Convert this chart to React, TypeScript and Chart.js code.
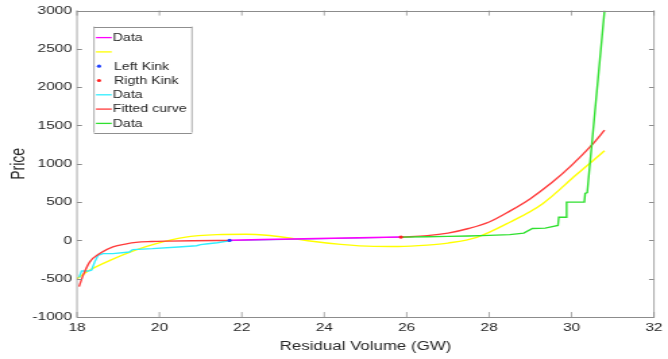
import React, { useEffect, useRef } from 'react';
import { Chart, registerables } from 'chart.js';

Chart.register(...registerables);

// ---- data ----
const xTicks = [18, 20, 22, 24, 26, 28, 30, 32];
const yTicks = [-1000, -500, 0, 500, 1000, 1500, 2000, 2500, 3000];

const magentaX = [21.7, 22.5, 23.5, 24.5, 25.86];
const magentaY = [2, 12, 22, 32, 45];

const kinkLineX = [21.7, 25.86];
const kinkLineY = [-3, 42];

const yellowX = [18, 18.3, 18.8, 19.4, 19.9, 20.6, 21.4, 22.1, 22.6, 23.1, 23.6, 24.4, 25.2, 25.8, 26.5, 27, 27.7, 28.5, 29.3, 30.1, 30.8];
const yellowY = [-500, -390, -260, -130, -45, 40, 75, 80, 68, 35, -5, -52, -78, -80, -62, -35, 40, 237, 480, 850, 1170];

const leftKinkX = [21.7];
const leftKinkY = [0];
const rightKinkX = [25.86];
const rightKinkY = [43];

const cyanX = [18.04, 18.06, 18.11, 18.27, 18.35, 18.43, 18.51, 18.63, 18.87, 19.27, 19.35, 19.83, 20.46, 20.9, 21.0, 21.18, 21.4, 21.7];
const cyanY = [-475, -470, -400, -400, -388, -280, -194, -172, -172, -151, -120, -108, -86, -70, -55, -43, -30, -5];

const fitX = [18.05, 18.15, 18.31, 18.55, 18.87, 19.2, 19.43, 19.8, 20.22, 20.8, 21.7, 23.8, 25.86, 26.5, 27, 27.5, 28, 28.5, 29, 29.5, 30, 30.5, 30.8];
const fitY = [-604, -453, -280, -172, -86, -45, -26, -15, -9, -4, 0, null, 43, 62, 95, 155, 240, 382, 545, 745, 980, 1250, 1440];

const greenX = [25.86, 26.5, 27, 27.5, 28, 28.5, 28.84, 29.05, 29.36, 29.67, 29.69, 29.87, 29.88, 30.31, 30.33, 30.38, 30.8];
const greenY = [43, 48, 52, 58, 66, 76, 95, 155, 160, 194, 302, 302, 500, 500, 612, 625, 3000];

const legendLabels = ['Data', '', 'Left Kink', 'Rigth Kink', 'Data', 'Fitted curve', 'Data'];

// ---- styling ----
const CANVAS_W = 495;
const CANVAS_H = 359;
const SCREEN_W = 668;
const S = SCREEN_W / CANVAS_W; // horizontal stretch of the picture
const FONT = "'Liberation Sans', Arial, Helvetica, sans-serif";
const TEXT = '#262626';
const AXIS = '#8c8c8c';

const pts = (xs: number[], ys: (number | null)[]) => xs.map((x, i) => ({ x, y: ys[i] }));

const boxTicksPlugin = {
  id: 'boxTicks',
  afterDatasetsDraw(chart: any) {
    const { ctx, chartArea: ca, scales } = chart;
    ctx.save();
    ctx.strokeStyle = AXIS;
    ctx.lineWidth = 1;
    ctx.beginPath();
    ctx.moveTo(ca.left, Math.round(ca.top) + 0.5);
    ctx.lineTo(ca.right, Math.round(ca.top) + 0.5);
    ctx.moveTo(ca.left, Math.round(ca.bottom) + 0.5);
    ctx.lineTo(ca.right, Math.round(ca.bottom) + 0.5);
    ctx.stroke();
    ctx.lineWidth = 1 / S;
    ctx.beginPath();
    ctx.moveTo(ca.left, ca.top);
    ctx.lineTo(ca.left, ca.bottom + 1);
    ctx.moveTo(ca.right, ca.top);
    ctx.lineTo(ca.right, ca.bottom + 1);
    xTicks.forEach((v) => {
      const px = scales.x.getPixelForValue(v);
      ctx.moveTo(px, ca.bottom);
      ctx.lineTo(px, ca.bottom - 5);
      ctx.moveTo(px, ca.top);
      ctx.lineTo(px, ca.top + 5);
    });
    ctx.stroke();
    ctx.lineWidth = 1;
    ctx.beginPath();
    yTicks.forEach((v) => {
      const py = Math.round(scales.y.getPixelForValue(v)) + 0.5;
      ctx.moveTo(ca.left, py);
      ctx.lineTo(ca.left + 5 / S, py);
      ctx.moveTo(ca.right, py);
      ctx.lineTo(ca.right - 5 / S, py);
    });
    ctx.stroke();
    ctx.restore();
  },
};

const legendPlugin = {
  id: 'boxLegend',
  afterDraw(chart: any) {
    const { ctx, chartArea: ca } = chart;
    const ds = chart.data.datasets;
    const x0 = ca.left + 17 / S;
    const y0 = ca.top + 16;
    const w = 98 / S;
    const h = 106;
    ctx.save();
    ctx.fillStyle = '#ffffff';
    ctx.fillRect(x0, y0, w, h);
    ctx.strokeStyle = '#8f8f8f';
    ctx.lineWidth = 1;
    ctx.beginPath();
    ctx.moveTo(x0, Math.round(y0) + 0.5);
    ctx.lineTo(x0 + w, Math.round(y0) + 0.5);
    ctx.moveTo(x0, Math.round(y0 + h) + 0.5);
    ctx.lineTo(x0 + w, Math.round(y0 + h) + 0.5);
    ctx.stroke();
    ctx.lineWidth = 1 / S;
    ctx.beginPath();
    ctx.moveTo(x0, y0);
    ctx.lineTo(x0, y0 + h);
    ctx.moveTo(x0 + w, y0);
    ctx.lineTo(x0 + w, y0 + h);
    ctx.stroke();

    ctx.font = `10.5px ${FONT}`;
    ctx.textBaseline = 'middle';
    ctx.textAlign = 'left';
    legendLabels.forEach((label, i) => {
      const d = ds[i];
      const yy = y0 + 11 + i * 14.3;
      if (d.showLine === false) {
        ctx.fillStyle = d.backgroundColor;
        ctx.beginPath();
        ctx.ellipse(x0 + 5 / S, yy, 1.6, 1.6, 0, 0, Math.PI * 2);
        ctx.fill();
      } else {
        ctx.strokeStyle = d.borderColor;
        ctx.lineWidth = 1.3;
        ctx.beginPath();
        ctx.moveTo(x0 + 2 / S, yy);
        ctx.lineTo(x0 + 17.7 / S, yy);
        ctx.stroke();
      }
      ctx.fillStyle = TEXT;
      ctx.fillText(label, x0 + (d.showLine === false ? 20 : 18.7) / S, yy + 0.5);
    });
    ctx.restore();
  },
};

export default function App() {
  const ref = useRef<HTMLCanvasElement | null>(null);

  useEffect(() => {
    document.body.style.margin = '0';
    const canvas = ref.current!;
    const lineBase = { showLine: true, pointRadius: 0, borderWidth: 1.4, fill: false };
    const chart = new Chart(canvas, {
      type: 'scatter',
      data: {
        datasets: [
          { ...lineBase, label: legendLabels[0], data: pts(magentaX, magentaY), borderColor: '#ff00ff', order: 4 },
          { ...lineBase, label: legendLabels[1], data: pts(yellowX, yellowY), borderColor: '#ffff00', cubicInterpolationMode: 'monotone', order: 6 },
          { label: legendLabels[2], data: pts(leftKinkX, leftKinkY), showLine: false, pointRadius: 1.6, borderWidth: 0, backgroundColor: '#1f3fff', pointStyle: 'circle', order: 0 },
          { label: legendLabels[3], data: pts(rightKinkX, rightKinkY), showLine: false, pointRadius: 1.6, borderWidth: 0, backgroundColor: '#ff2020', pointStyle: 'circle', order: 0 },
          { ...lineBase, label: legendLabels[4], data: pts(cyanX, cyanY), borderColor: '#30eeff', order: 3 },
          { ...lineBase, label: legendLabels[5], data: pts(fitX, fitY), borderColor: '#ff3b3b', cubicInterpolationMode: 'monotone', spanGaps: false, order: 2 },
          { ...lineBase, label: legendLabels[6], data: pts(greenX, greenY), borderColor: '#2fe02f', order: 1 },
          { ...lineBase, label: 'kink line', data: pts(kinkLineX, kinkLineY), borderColor: '#6a80e8', borderWidth: 1, order: 5 },
        ] as any,
      },
      options: {
        responsive: false,
        maintainAspectRatio: false,
        animation: false,
        devicePixelRatio: 1,
        events: [],
        layout: { padding: { top: 8, right: CANVAS_W - 662 / S, left: 0, bottom: 0 } },
        plugins: { legend: { display: false }, tooltip: { enabled: false }, title: { display: false } },
        scales: {
          x: {
            type: 'linear',
            min: 18,
            max: 32,
            afterFit: (s: any) => { s.height = CANVAS_H - 317; },
            afterBuildTicks: (s: any) => { s.ticks = xTicks.map((v) => ({ value: v })); },
            grid: { display: false, drawTicks: false },
            border: { display: false },
            ticks: {
              autoSkip: false,
              maxRotation: 0,
              padding: 4,
              color: TEXT,
              font: { family: FONT, size: 11.5 },
              callback: (v: any) => String(v),
            },
            title: {
              display: true,
              text: 'Residual Volume (GW)',
              color: TEXT,
              font: { family: FONT, size: 12.5 },
              padding: { top: 0, bottom: 4.5 },
            },
          },
          y: {
            type: 'linear',
            min: -1000,
            max: 3000,
            afterFit: (s: any) => { s.width = 77 / S; },
            afterBuildTicks: (s: any) => { s.ticks = yTicks.map((v) => ({ value: v })); },
            grid: { display: false, drawTicks: false },
            border: { display: false },
            ticks: {
              autoSkip: false,
              padding: 3.7,
              color: TEXT,
              font: { family: FONT, size: 11.5 },
              callback: (v: any) => String(v),
            },
            title: {
              display: true,
              text: 'Price',
              color: TEXT,
              font: { family: FONT, size: 14 },
              padding: { top: 5.7, bottom: 0 },
            },
          },
        },
      } as any,
      plugins: [boxTicksPlugin, legendPlugin],
    });
    return () => chart.destroy();
  }, []);

  return (
    <div style={{ width: SCREEN_W, height: CANVAS_H }}>
      <canvas
        ref={ref}
        width={CANVAS_W}
        height={CANVAS_H}
        style={{ width: `${SCREEN_W}px`, height: `${CANVAS_H}px`, display: 'block' }}
      />
    </div>
  );
}
